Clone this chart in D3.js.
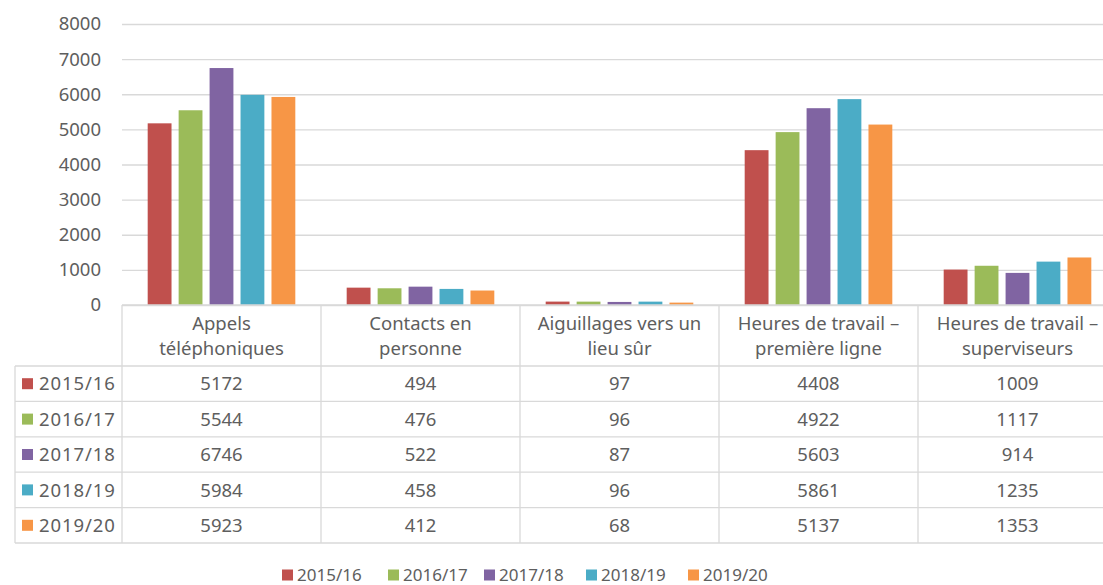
<!DOCTYPE html>
<html>
<head>
<meta charset="utf-8">
<script src="https://cdn.jsdelivr.net/npm/d3@7"></script>
<style>
  body { margin: 0; background: #fff; }
  svg { font-family: "Noto Sans", sans-serif; }
</style>
</head>
<body>
<script>
const categories = [
  ["Appels", "téléphoniques"],
  ["Contacts en", "personne"],
  ["Aiguillages vers un", "lieu sûr"],
  ["Heures de travail –", "première ligne"],
  ["Heures de travail –", "superviseurs"]
];
const years = ["2015/16", "2016/17", "2017/18", "2018/19", "2019/20"];
const colors = ["#c0504d", "#9bbb59", "#8064a2", "#4bacc6", "#f79646"];
// values[year][category]
const values = [
  [5172, 494, 97, 4408, 1009],
  [5544, 476, 96, 4922, 1117],
  [6746, 522, 87, 5603, 914],
  [5984, 458, 96, 5861, 1235],
  [5923, 412, 68, 5137, 1353]
];
const yTicks = [0, 1000, 2000, 3000, 4000, 5000, 6000, 7000, 8000];

const width = 1103, height = 585;
const plotLeft = 122, colW = 199, plotTop = 24, zeroY = 305;
const headerH = 61, rowH = 35.4, tableLeft = 15;
const textColor = "#5e5e5e", lineColor = "#d9d9d9";
const fs = "18.5px";

const svg = d3.select("body").append("svg")
  .attr("width", width).attr("height", height);

const x0 = d3.scaleBand().domain(d3.range(categories.length))
  .range([plotLeft, plotLeft + colW * categories.length]);
const x1 = d3.scaleBand().domain(years)
  .range([0, x0.bandwidth()]).paddingInner(0.23).paddingOuter(0.83);
const y = d3.scaleLinear().domain([0, 8000]).range([zeroY, plotTop]);

// gridlines + y labels
const yAxis = d3.axisLeft(y).tickValues(yTicks).tickFormat(d3.format("d"))
  .tickSize(-(width - plotLeft)).tickPadding(21);
svg.append("g").attr("transform", `translate(${plotLeft},0)`).call(yAxis)
  .call(g => g.select(".domain").remove())
  .call(g => g.selectAll(".tick line").attr("stroke", lineColor).attr("stroke-width", 1.3))
  .call(g => g.selectAll(".tick text").attr("fill", textColor)
    .style("font-size", fs).style("font-family", "'Noto Sans', sans-serif"));

// bars
svg.append("g").selectAll("g").data(categories).join("g")
  .attr("transform", (d, i) => `translate(${x0(i)},0)`)
  .selectAll("rect").data((d, i) => years.map((yr, j) => ({yr, j, v: values[j][i]})))
  .join("rect")
  .attr("x", d => x1(d.yr)).attr("width", x1.bandwidth())
  .attr("y", d => y(d.v)).attr("height", d => zeroY - y(d.v))
  .attr("fill", d => colors[d.j]);

// data table
const tableBottom = zeroY + headerH + rowH * years.length;
const tbl = svg.append("g");
const line = (xa, ya, xb, yb) => tbl.append("line")
  .attr("x1", xa).attr("y1", ya).attr("x2", xb).attr("y2", yb)
  .attr("stroke", lineColor).attr("stroke-width", 1.3);

// vertical lines
categories.forEach((c, i) => line(x0(i), zeroY, x0(i), tableBottom));
line(x0(categories.length - 1) + colW, zeroY, x0(categories.length - 1) + colW, tableBottom);
line(tableLeft, zeroY + headerH, tableLeft, tableBottom);
// horizontal lines
line(plotLeft, zeroY, width, zeroY);
years.forEach((yr, j) => line(tableLeft, zeroY + headerH + rowH * j, width, zeroY + headerH + rowH * j));
line(tableLeft, tableBottom, width, tableBottom);

// header text
tbl.selectAll("text.hdr").data(categories).join("text").attr("class", "hdr")
  .attr("x", (d, i) => x0(i) + colW / 2).attr("y", zeroY + 25)
  .attr("text-anchor", "middle").attr("fill", textColor).style("font-size", fs)
  .selectAll("tspan").data(d => d).join("tspan")
  .attr("x", function () { return this.parentNode.getAttribute("x"); })
  .attr("dy", (d, k) => k === 0 ? 0 : 25).text(d => d);

// rows
years.forEach((yr, j) => {
  const cy = zeroY + headerH + rowH * j + rowH / 2;
  tbl.append("rect").attr("x", 22).attr("y", cy - 5.5).attr("width", 11).attr("height", 11)
    .attr("fill", colors[j]);
  tbl.append("text").attr("x", 39).attr("y", cy).attr("dy", "0.36em")
    .attr("fill", textColor).style("font-size", fs).style("letter-spacing", "0.9px").text(yr);
  categories.forEach((c, i) => {
    tbl.append("text").attr("x", x0(i) + colW / 2).attr("y", cy).attr("dy", "0.36em")
      .attr("text-anchor", "middle").attr("fill", textColor).style("font-size", fs)
      .text(values[j][i]);
  });
});

// legend
const legX = [282, 388, 484, 586, 688];
const leg = svg.append("g").selectAll("g").data(years).join("g")
  .attr("transform", (d, j) => `translate(${legX[j]},575)`);
leg.append("rect").attr("x", 0).attr("y", -5.5).attr("width", 11).attr("height", 11)
  .attr("fill", (d, j) => colors[j]);
leg.append("text").attr("x", 15).attr("dy", "0.36em").attr("fill", textColor)
  .style("font-size", "17px").text(d => d);
</script>
</body>
</html>
